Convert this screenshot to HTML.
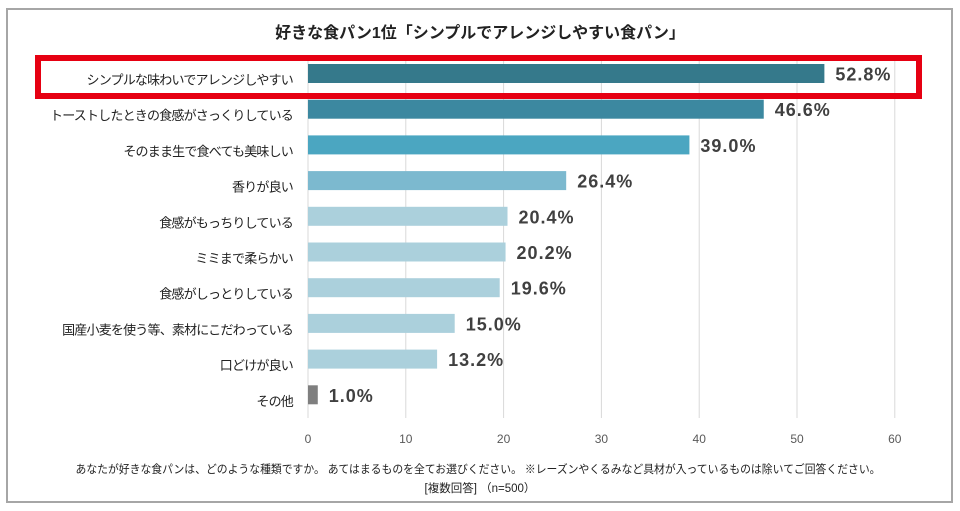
<!DOCTYPE html>
<html><head><meta charset="utf-8">
<style>
body{margin:0;background:#fff;width:960px;height:511px;overflow:hidden;font-family:"Liberation Sans","Noto Sans CJK JP",sans-serif;}
svg{position:absolute;left:0;top:0}
</style></head><body>
<svg id="c" width="960" height="511">
<rect x="7" y="9" width="945" height="493" fill="#fff" stroke="#a6a6a6" stroke-width="2"/>
<text x="480" y="38" text-anchor="middle" font-size="16" font-weight="bold" fill="#222">好きな食パン1位「シンプルでアレンジしやすい食パン」</text>
<g id="grid"></g><g id="bars"></g><g id="ticks"></g>
<rect x="38" y="58" width="881" height="38" fill="none" stroke="#e60012" stroke-width="6"/>
<text x="478" y="473" text-anchor="middle" font-size="11.5" fill="#222" textLength="805" lengthAdjust="spacingAndGlyphs">あなたが好きな食パンは、どのような種類ですか。 あてはまるものを全てお選びください。 ※レーズンやくるみなど具材が入っているものは除いてご回答ください。</text>
<text x="480" y="492" text-anchor="middle" font-size="11.5" fill="#222">[複数回答] （n=500）</text>
</svg>
<script>
const categories=["シンプルな味わいでアレンジしやすい","トーストしたときの食感がさっくりしている","そのまま生で食べても美味しい","香りが良い","食感がもっちりしている","ミミまで柔らかい","食感がしっとりしている","国産小麦を使う等、素材にこだわっている","口どけが良い","その他"];
const values=[52.8,46.6,39.0,26.4,20.4,20.2,19.6,15.0,13.2,1.0];
const tickValues=[0,10,20,30,40,50,60];
const colors=["#35798b","#3c88a0","#4ba6c1","#7cb9cf","#abd0dc","#abd0dc","#abd0dc","#abd0dc","#abd0dc","#7f7f7f"];
const NS="http://www.w3.org/2000/svg";
const x=v=>308+v*9.78;
const rowY=i=>73.5+i*35.7;
function mk(t,a,p){const e=document.createElementNS(NS,t);for(const k in a)e.setAttribute(k,a[k]);p.appendChild(e);return e;}
const g=document.getElementById('grid'),b=document.getElementById('bars'),tk=document.getElementById('ticks');
tickValues.forEach(v=>{
 const l=mk('line',{x1:x(v),x2:x(v),y1:58,y2:418,stroke:'#d9d9d9','stroke-width':1},g);
 
 
 const t=mk('text',{x:x(v),y:443,'text-anchor':'middle','font-size':12,fill:'#595959'},tk);
 t.textContent=v;
 
 
});
categories.forEach((c,i)=>{
 const y=rowY(i);
 const r=mk('rect',{x:x(0),y:y-9.5,width:x(values[i])-x(0),height:19,fill:colors[i]},b);
 
 
 const l=mk('text',{x:293,y:y+11,'text-anchor':'end','font-size':13,'letter-spacing':'-0.8',fill:'#222'},b);
 l.textContent=c;
 
 
 const v=mk('text',{x:x(values[i])+11,y:y+7,'font-size':18,'font-weight':'bold','letter-spacing':'1',fill:'#404040'},b);
 v.textContent=values[i].toFixed(1)+'%';
 
 
});
</script>
</body></html>
